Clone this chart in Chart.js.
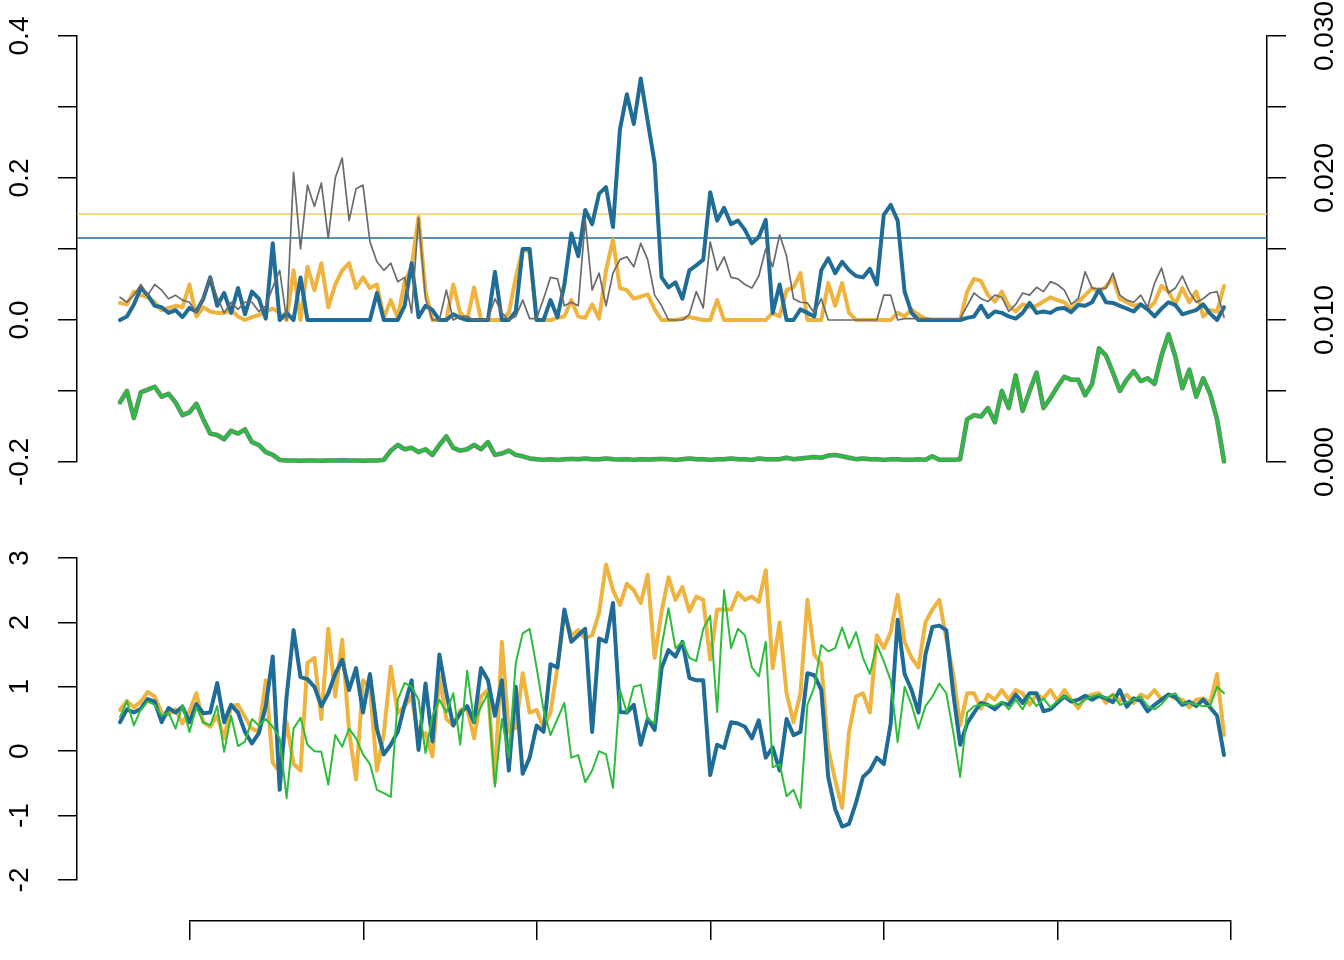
<!DOCTYPE html>
<html>
<head>
<meta charset="utf-8">
<script src="https://cdn.jsdelivr.net/npm/chart.js@4.4.1/dist/chart.umd.min.js"></script>
<style>
html,body{margin:0;padding:0;background:#fff;}
#wrap{position:relative;width:1344px;height:960px;}
#wrap canvas{position:absolute;left:0;top:0;}
</style>
</head>
<body>
<div id="wrap">
<canvas id="topChart" width="1344" height="960"></canvas>
<canvas id="bottomChart" width="1344" height="960"></canvas>
<canvas id="indexAxis" width="1344" height="960"></canvas>
</div>
<script>
// upper panel, left axis
const topBlue = [
  0, .005, .022, .045, .035, .02, .018, .01, .014, .004,
  .017, .012, .03, .06, .02, .038, .01, .045, .008, .04,
  .03, .002, .108, 0, .01, 0, .06, 0, 0, 0,
  0, 0, 0, 0, 0, 0, 0, .038, 0, 0,
  0, .02, .08, .004, .02, .014, 0, 0, .008, .003,
  0, 0, 0, 0, .068, 0, 0, .012, .1, .1,
  0, 0, .028, .004, .05, .122, .09, .155, .135, .178,
  .187, .131, .268, .318, .276, .34, .28, .221, .06, .046,
  .053, .03, .07, .077, .085, .18, .14, .158, .135, .14,
  .127, .108, .117, .141, .01, .05, 0, 0, .015, .01,
  .005, .07, .087, .066, .082, .07, .062, .06, .072, .05,
  .148, .162, .14, .04, .01, 0, 0, 0, 0, 0,
  0, 0, .003, .005, .02, .004, .012, .01, .005, .002,
  .01, .024, .01, .012, .01, .016, .017, .011, .021, .02,
  .025, .043, .025, .024, .02, .016, .012, .022, .015, .005,
  .016, .025, .021, .008, .011, .014, .022, .009, 0, .018
];
const topYellow = [
  .024, .022, .04, .035, .032, .025, .014, .017, .02, .018,
  .05, .005, .018, .012, .01, .01, .014, .005, 0, .004,
  .007, .012, .016, .01, 0, .07, 0, .075, .042, .08,
  .018, .05, .07, .08, .045, .06, .045, .05, .003, .028,
  .003, .054, .075, .145, .04, 0, 0, 0, .05, .01,
  0, .046, 0, 0, 0, 0, .01, .06, .1, .095,
  0, 0, 0, .003, .005, .028, .005, .003, .022, .002,
  .07, .113, .045, .042, .03, .033, .036, .015, 0, 0,
  0, .002, .004, .002, 0, 0, .028, 0, 0, 0,
  0, 0, 0, 0, .01, .005, .042, .046, .066, 0,
  0, 0, .052, .02, .052, .01, 0, 0, 0, 0,
  0, 0, .01, .005, .015, .007, .002, 0, 0, 0,
  0, 0, .04, .058, .055, .035, .026, .04, .02, .012,
  .022, .018, .02, .026, .032, .028, .025, .015, .025, .035,
  .045, .04, .047, .059, .03, .025, .02, .022, .015, .025,
  .048, .04, .022, .045, .025, .04, .005, .014, .012, .048
];
const topGray = [
  .032, .025, .035, .05, .035, .05, .042, .03, .035, .028,
  .025, .01, .032, .06, .032, .01, .025, .015, .025, .025,
  .012, .02, .046, .07, 0, .208, .1, .19, .16, .193,
  .115, .2, .228, .14, .185, .19, .11, .082, .07, .08,
  .054, .06, .01, .144, .03, 0, 0, .042, 0, .005,
  .005, 0, 0, .002, .03, .01, 0, .005, .028, .002,
  .002, .03, .06, .058, .02, .025, .02, .141, .042, .066,
  .02, .066, .085, .089, .075, .108, .085, .035, .02, 0,
  0, 0, .008, .04, .017, .11, .07, .089, .06, .058,
  .05, .045, .062, .1, .075, .12, .09, .03, .025, .024,
  .01, .03, 0, 0, 0, 0, 0, 0, 0, 0,
  .035, .035, 0, .002, .002, .002, .002, .002, .002, .002,
  .002, .002, .02, .038, .03, .026, .035, .032, .012, .022,
  .038, .035, .046, .04, .054, .05, .042, .022, .03, .068,
  .045, .044, .045, .066, .035, .028, .025, .035, .018, .052,
  .073, .038, .045, .062, .04, .025, .03, .038, .04, .004
];
const yellowCut = 0.149;
const blueCut = 0.1155;

// upper panel, right axis (the three curves coincide at this scale)
const lowGreen = [
  .0042, .0050, .0031, .0049, .0051, .0053, .0046, .0048, .0042, .0033,
  .0035, .0041, .0030, .0020, .0019, .0016, .0022, .0020, .0023, .0014,
  .0012, .0007, .0005, .00015, .0001, .0001, .00008, .0001, .0001, .00008,
  .0001, .0001, .00012, .0001, .0001, .00008, .0001, .0001, .00015, .0008,
  .0012, .0009, .0010, .0007, .0009, .0005, .0012, .0018, .0010, .0008,
  .0009, .0012, .0009, .0014, .0005, .0006, .0008, .0005, .0004, .00025,
  .0002, .00015, .0002, .00015, .0002, .00022, .0002, .00025, .0002, .0002,
  .00025, .0002, .00018, .0002, .00015, .0002, .00018, .0002, .00022, .0002,
  .00015, .0002, .00025, .0002, .0002, .00015, .0002, .0002, .00025, .0002,
  .0002, .00015, .00025, .0002, .0002, .0002, .0003, .0002, .00025, .0003,
  .00035, .0003, .00045, .0005, .0004, .0003, .0002, .00025, .0002, .0002,
  .00015, .0002, .0002, .00015, .00015, .0002, .00015, .0004, .00015, .00015,
  .00015, .0002, .0030, .0033, .0032, .0038, .0028, .0050, .0038, .0061,
  .0036, .0050, .0063, .0038, .0045, .0053, .0060, .0058, .0058, .0047,
  .0055, .0080, .0075, .0063, .0050, .0058, .0064, .0057, .0059, .0055,
  .0075, .0090, .0074, .0052, .0065, .0046, .0059, .0048, .0030, .00005
];

// lower panel
const bottomBlue = [
  0.45, 0.65, 0.6, 0.66, 0.81, 0.77, 0.45, 0.67, 0.6, 0.69,
  0.45, 0.73, 0.59, 0.6, 1.06, 0.45, 0.72, 0.6, 0.3, 0.12,
  0.28, 0.7, 1.47, -0.6, 0.85, 1.88, 1.15, 1.12, 1.0, 0.7,
  0.9, 1.2, 1.42, 0.95, 1.29, 0.6, 1.2, 0.35, -0.05, 0.1,
  0.3, 0.72, 1.1, 0.02, 1.05, 0.15, 1.5, 0.9, 0.4, 0.59,
  0.7, 0.45, 1.29, 1.1, 0.55, 1.1, -0.3, 1.0, -0.35, -0.1,
  0.4, 0.3, 1.35, 1.3, 2.2, 1.7, 1.8, 1.9, 0.3, 1.75,
  1.7, 2.3, 0.61, 0.6, 0.72, 0.1, 0.5, 0.33, 1.29, 1.57,
  1.47, 1.7, 1.14, 1.1, 1.1, -0.37, 0.1, 0.05, 0.45, 0.43,
  0.38, 0.2, 0.48, -0.1, 0.06, -0.3, 0.5, 0.25, 0.3, 1.21,
  1.18, 0.95, -0.4, -0.9, -1.17, -1.13, -0.8, -0.4, -0.3, -0.1,
  -0.2, 0.43, 2.04, 1.2, 0.95, 0.6, 1.5, 1.93, 1.95, 1.88,
  0.9, 0.1, 0.43, 0.6, 0.75, 0.72, 0.65, 0.75, 0.72, 0.88,
  0.75, 0.9, 0.9, 0.62, 0.65, 0.75, 0.85, 0.77, 0.8, 0.86,
  0.8, 0.86, 0.82, 0.76, 0.95, 0.69, 0.82, 0.78, 0.62, 0.72,
  0.8, 0.88, 0.84, 0.72, 0.77, 0.7, 0.8, 0.68, 0.55, -0.06
];
const bottomYellow = [
  0.64, 0.78, 0.68, 0.77, 0.92, 0.85, 0.6, 0.57, 0.65, 0.43,
  0.62, 0.9, 0.45, 0.38, 0.55, 0.2, 0.7, 0.72, 0.53, 0.35,
  0.3, 1.1, -0.18, -0.32, 0.45, -0.2, -0.3, 1.37, 1.45, 0.5,
  1.9, 0.85, 1.73, 0.3, -0.44, 1.1, 1.0, -0.3, 0.28, 1.31,
  0.59, 0.7, 0.85, 0.2, 0.28, -0.08, 1.16, 0.5, 0.4, 0.64,
  0.66, 0.2, 0.85, 0.95, -0.48, 1.7, 0.3, 0.36, 1.21, 0.6,
  0.64, 0.36, 0.6, 1.3, 2.14, 1.8, 1.88, 1.75, 1.8, 2.15,
  2.9, 2.5, 2.27, 2.6, 2.5, 2.3, 2.74, 1.45, 2.17, 2.7,
  2.35, 2.55, 2.17, 2.4, 2.35, 1.42, 2.2, 2.2, 2.2, 2.46,
  2.35, 2.4, 2.32, 2.81, 1.29, 2.0, 0.9, 0.45, 0.9, 2.35,
  1.5, 1.35, 0.03, -0.45, -0.88, 0.3, 0.85, 0.9, 0.6, 1.8,
  1.6, 1.85, 2.43, 1.7, 1.45, 1.3, 2.0, 2.2, 2.35, 1.75,
  1.2, 0.4, 0.9, 0.9, 0.66, 0.88, 0.8, 0.95, 0.8, 0.95,
  0.9, 0.72, 0.88, 0.82, 0.95, 0.78, 0.95, 0.8, 0.67, 0.83,
  0.88, 0.9, 0.75, 0.88, 0.78, 0.88, 0.75, 0.88, 0.83, 0.95,
  0.8, 0.88, 0.82, 0.8, 0.68, 0.8, 0.82, 0.75, 1.2, 0.25
];
const bottomGreen = [
  0.53, 0.78, 0.4, 0.65, 0.77, 0.72, 0.55, 0.6, 0.35, 0.72,
  0.3, 0.68, 0.45, 0.4, 0.7, -0.01, 0.55, 0.08, 0.15, 0.5,
  0.4, 0.5, 0.38, 0.2, -0.73, 0.35, 0.52, 0.1, 0.0, -0.01,
  -0.52, 0.25, 0.07, 0.35, 0.2, -0.05, -0.2, -0.6, -0.65, -0.71,
  0.8, 1.06, 1.0, 0.8, -0.03, 0.55, 0.8, 0.6, 0.9, 0.1,
  1.25, 0.45, 0.69, 0.9, -0.55, 0.5, -0.1, 1.37, 1.83, 1.9,
  1.3, 0.64, 0.25, 0.5, 0.75, -0.1, -0.06, -0.48, -0.3, 0.0,
  -0.05, -0.57, 0.95, 0.6, 1.0, 1.03, 0.5, 0.43, 1.63, 2.22,
  1.6, 1.7, 1.45, 1.4, 1.9, 2.1, 0.61, 2.5, 1.6, 1.9,
  1.8, 1.3, 1.16, 1.7, -0.25, -0.2, -0.7, -0.6, -0.88, 0.72,
  1.0, 1.65, 1.55, 1.6, 1.92, 1.6, 1.85, 1.45, 1.2, 1.65,
  1.4, 1.1, 0.14, 1.0, 0.72, 0.35, 0.7, 0.85, 1.05, 0.9,
  0.3, -0.4, 0.6, 0.7, 0.72, 0.72, 0.7, 0.77, 0.65, 0.8,
  0.65, 0.85, 0.7, 0.82, 0.68, 0.78, 0.85, 0.8, 0.72, 0.8,
  0.85, 0.88, 0.82, 0.88, 0.72, 0.76, 0.8, 0.85, 0.7, 0.65,
  0.73, 0.86, 0.9, 0.74, 0.75, 0.72, 0.7, 0.7, 1.0, 0.9
];

const leftTicks = [-0.2, -0.1, 0, 0.1, 0.2, 0.3, 0.4];
const leftLabels = ['-0.2', '', '0.0', '', '0.2', '', '0.4'];
const rightTicks = [0, 0.005, 0.01, 0.015, 0.02, 0.025, 0.03];
const rightLabels = ['0.000', '', '0.010', '', '0.020', '', '0.030'];
const lowerTicks = [-2, -1, 0, 1, 2, 3];
const lowerLabels = ['-2', '-1', '0', '1', '2', '3'];
const indexTicks = [10, 35, 60, 85, 110, 135, 160];

const BLUE = '#1f6c97';
const YELLOW = '#eeb43f';
const GRAY = '#6b6b6b';
const GREEN = '#2ebd3b';
const FONT = {family: '"Liberation Sans", Arial, sans-serif', size: 28};
const X_MIN = -6.19, X_MAX = 165.19;
const AXIS_L = 77, AXIS_R = 1267, TICK = 19;

function pts(arr){ return arr.map((v, i) => ({x: i, y: v})); }

function widest(labels){
  const ctx = document.createElement('canvas').getContext('2d');
  ctx.font = FONT.size + 'px ' + FONT.family;
  return Math.max(...labels.map(l => ctx.measureText(l).width));
}

function line(data, color, width, axis){
  return {
    data: pts(data), borderColor: color, borderWidth: width, yAxisID: axis,
    pointRadius: 0, fill: false, tension: 0, clip: false,
    borderJoinStyle: 'round', borderCapStyle: 'round'
  };
}

function hline(v, color){
  return {
    data: [{x: X_MIN, y: v}, {x: X_MAX, y: v}], borderColor: color, borderWidth: 1.3,
    yAxisID: 'y', pointRadius: 0, fill: false, clip: false
  };
}

function yAxis(pos, min, max, ticks, labels, center){
  const w = widest(labels);
  const pad = pos === 'left' ? AXIS_L - TICK - center - w / 2 : center - AXIS_R - TICK - w / 2;
  return {
    type: 'linear', position: pos, min: min, max: max,
    afterBuildTicks: s => { s.ticks = ticks.map(v => ({value: v})); },
    afterFit: s => { s.width = pos === 'left' ? AXIS_L : 1344 - AXIS_R; },
    grid: {drawOnChartArea: false, drawTicks: true, tickLength: TICK, color: '#000', lineWidth: 1.5},
    border: {display: true, color: '#000', width: 1.5},
    ticks: {
      autoSkip: false, minRotation: 90, maxRotation: 90, crossAlign: 'center',
      padding: pad, color: '#000', font: FONT,
      callback: (v, i) => labels[i]
    }
  };
}

const hiddenX = {type: 'linear', display: false, min: X_MIN, max: X_MAX};
const common = {
  responsive: false, animation: false, devicePixelRatio: 1, events: [],
  plugins: {legend: {display: false}, tooltip: {enabled: false}}
};

new Chart(document.getElementById('topChart'), {
  type: 'line',
  data: {datasets: [
    line(topGray, GRAY, 1.7, 'y'),
    line(topBlue, BLUE, 4, 'y'),
    line(topYellow, YELLOW, 4, 'y'),
    hline(yellowCut, '#f2c055'),
    hline(blueCut, BLUE),
    line(lowGreen, GREEN, 3, 'y2'),
    line(lowGreen, 'rgba(31,108,151,0.75)', 4.5, 'y2'),
    line(lowGreen, 'rgba(238,180,63,0.6)', 5, 'y2')
  ]},
  options: Object.assign({}, common, {
    layout: {padding: {top: 36, bottom: 960 - 462, left: 0, right: 0}},
    scales: {
      x: hiddenX,
      y: yAxis('left', -0.2, 0.4, leftTicks, leftLabels, 20.5),
      y2: yAxis('right', 0, 0.03, rightTicks, rightLabels, 1325)
    }
  })
});

new Chart(document.getElementById('bottomChart'), {
  type: 'line',
  data: {datasets: [
    line(bottomGreen, GREEN, 2, 'y'),
    line(bottomBlue, BLUE, 4, 'y'),
    line(bottomYellow, YELLOW, 4, 'y')
  ]},
  options: Object.assign({}, common, {
    layout: {padding: {top: 558, bottom: 960 - 880, left: 0, right: 1344 - AXIS_R}},
    scales: {
      x: hiddenX,
      y: yAxis('left', -2, 3, lowerTicks, lowerLabels, 20.5)
    }
  })
});

new Chart(document.getElementById('indexAxis'), {
  type: 'line',
  data: {datasets: []},
  options: Object.assign({}, common, {
    layout: {padding: {top: 800, bottom: 0, left: 190, right: 1344 - 1231}},
    scales: {
      x: {
        type: 'linear', min: 10, max: 160,
        afterBuildTicks: s => { s.ticks = indexTicks.map(v => ({value: v})); },
        afterFit: s => { s.height = 39; },
        grid: {drawOnChartArea: false, drawTicks: true, tickLength: TICK, color: '#000', lineWidth: 1.5},
        border: {display: true, color: '#000', width: 1.5},
        ticks: {display: false}
      },
      y: {display: false}
    }
  })
});
</script>
</body>
</html>
